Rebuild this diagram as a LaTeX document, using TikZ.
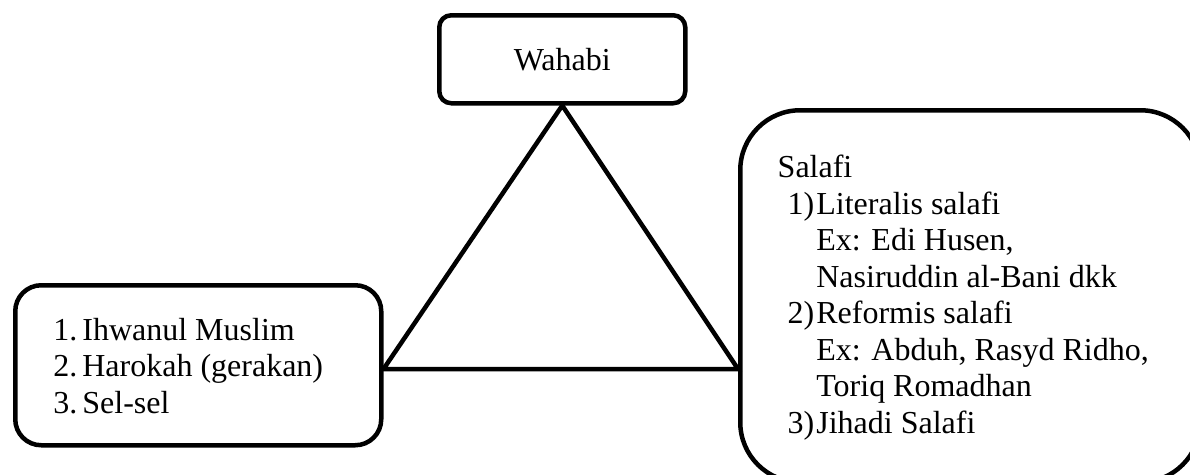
\documentclass[tikz,border=0pt]{standalone}
\usepackage{fontspec}
\setmainfont{Liberation Serif}
\usetikzlibrary{calc}

\begin{document}
\begin{tikzpicture}[
		x=1pt,y=-1pt,
		boxtext/.style={node font=\fontsize{32}{36.5}\selectfont,inner sep=0pt,anchor=north west},
		termbox/.style={boxtext,draw,line width=4.5pt,align=center},
		headbox/.style={termbox,rounded corners=12pt,minimum width=246pt,minimum height=88pt},
		listbox/.style={termbox,rounded corners=26pt,minimum width=366pt,minimum height=160pt},
		bigbox/.style={termbox,rounded corners=60pt,minimum width=460pt,minimum height=372pt},
		edge/.style={line width=4.5pt,line join=miter}
	]
	\clip (0,0) rectangle (1190,474);
	%
	\node[headbox] (wahabi) at (437,13) {Wahabi};
	\node[listbox] (gerakan) at (13,283) {%
		\begin{tabular}{@{}r@{\hspace{5pt}}l@{\hspace{20pt}}}
			\rule{0pt}{33.5pt}1. & Ihwanul Muslim \\
			2. & Harokah (gerakan) \\
			3. & Sel-sel
		\end{tabular}};
	\node[bigbox] (salafi) at (738,108) {%
		\begin{tabular}{@{\hspace{10pt}}r@{\hspace{2pt}}l@{\hspace{14pt}}}
			\multicolumn{2}{@{}l@{}}{\rule{0pt}{29.5pt}Salafi} \\
			1) & Literalis salafi \\
			   & Ex: Edi Husen, \\
			   & Nasiruddin al-Bani dkk \\
			2) & Reformis salafi \\
			   & Ex: Abduh, Rasyd Ridho, \\
			   & Toriq Romadhan \\
			3) & Jihadi Salafi
		\end{tabular}};
	% triangle between the three boxes
	\coordinate (salafi_in) at (salafi.west |- {(0,369)});
	\coordinate (gerakan_in) at (gerakan.east |- salafi_in);
	\draw[edge] (wahabi.south) -- (gerakan_in) -- (salafi_in) -- cycle;
\end{tikzpicture}
\end{document}
